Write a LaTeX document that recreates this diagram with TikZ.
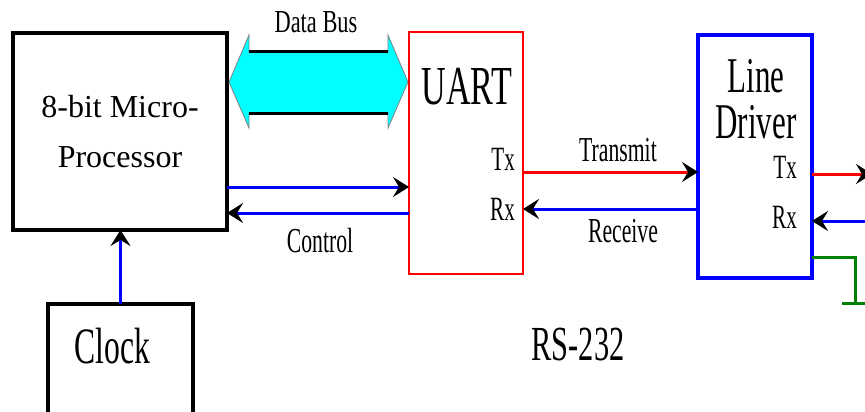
\documentclass[tikz,border=0pt]{standalone}
\usepackage{fontspec}
\setmainfont{Liberation Serif}
\newfontfamily\narrowserif{Liberation Serif}[FakeStretch=0.62]
\newfontfamily\busserif{Liberation Serif}[FakeStretch=0.7]
\usetikzlibrary{arrows.meta,calc}

\definecolor{busfill}{RGB}{0,255,255}
\definecolor{gndgreen}{RGB}{0,128,0}

\tikzset{
  blockbox/.style={draw,rectangle,outer sep=0pt,inner sep=0pt},
  sigarrow/.style={-{Stealth[length=16pt,width=20pt,inset=6pt,black]}},
  sigline/.style={line width=3pt},
  lbl/.style={anchor=base,inner sep=0pt,font=\narrowserif\fontsize{35}{35}\selectfont},
}

\begin{document}
\begin{tikzpicture}[x=1pt,y=-1pt]
  \useasboundingbox (0,0) rectangle (865,412);
  \clip (0,0) rectangle (865,412);

  % blocks
  \node[blockbox,line width=4pt,minimum width=214pt,minimum height=197pt] (micro) at (120,131.5) {};
  \node[blockbox,line width=4pt,minimum width=145pt,minimum height=116pt] (clock) at (120.5,362) {};
  \node[blockbox,draw=red,line width=2.5pt,minimum width=114pt,minimum height=242pt] (uart) at (466,153) {};
  \node[blockbox,draw=blue,line width=4pt,minimum width=114pt,minimum height=243pt] (driver) at (755,156.5) {};

  % block texts (base = last line)
  \node[anchor=base,align=center,inner sep=0pt,font=\fontsize{32}{50}\selectfont] (microtext) at (120,167) {8-bit Micro-\\Processor};
  \node[lbl,font=\narrowserif\fontsize{51}{51}\selectfont] (clocktext) at (112.5,363) {Clock};
  \node[lbl,font=\narrowserif\fontsize{55}{55}\selectfont] (uarttext) at (467,104) {UART};
  \node[lbl,align=center,font=\narrowserif\fontsize{50}{46}\selectfont] (drivertext) at (756,138) {Line\\Driver};
  \node[lbl,anchor=base east,font=\narrowserif\fontsize{34}{34}\selectfont] (uarttx) at (515,170) {Tx};
  \node[lbl,anchor=base east,font=\narrowserif\fontsize{34}{34}\selectfont] (uartrx) at (515,220) {Rx};
  \node[lbl,anchor=base east,font=\narrowserif\fontsize{34}{34}\selectfont] (drivertx) at (797,178) {Tx};
  \node[lbl,anchor=base east,font=\narrowserif\fontsize{34}{34}\selectfont] (driverrx) at (797,228) {Rx};

  % data bus
  \coordinate (busmid) at (0,82);
  \coordinate (busL) at (micro.east |- busmid);
  \coordinate (busR) at (uart.west |- busmid);
  \path[fill=busfill,draw=gray,line width=0.8pt]
    ($(busL)+(2,0)$) -- ($(busL)+(22,-47)$) -- ($(busL)+(22,-30)$)
    -- ($(busR)+(-21,-30)$) -- ($(busR)+(-21,-47)$) -- ($(busR)+(-1,0)$)
    -- ($(busR)+(-21,46)$) -- ($(busR)+(-21,31)$)
    -- ($(busL)+(22,31)$) -- ($(busL)+(22,46)$) -- cycle;
  \draw[line width=3pt] ($(busL)+(22,-30)$) -- ($(busR)+(-21,-30)$);
  \draw[line width=3pt] ($(busL)+(22,31)$) -- ($(busR)+(-21,31)$);
  \node[lbl,font=\busserif\fontsize{32}{32}\selectfont] (buslabel) at (316,33) {Data Bus};

  % control and serial lines
  \coordinate (ctlout) at (0,187);
  \coordinate (ctlin) at (0,213);
  \coordinate (txrow) at (0,172);
  \coordinate (rxrow) at (0,209);
  \draw[sigline,blue,sigarrow] (micro.east |- ctlout) -- (uart.west |- ctlout);
  \draw[sigline,blue,sigarrow] (uart.west |- ctlin) -- (micro.east |- ctlin);
  \draw[sigline,red,sigarrow] (uart.east |- txrow) -- (driver.west |- txrow);
  \draw[sigline,blue,sigarrow] (driver.west |- rxrow) -- (uart.east |- rxrow);
  \draw[sigline,blue,sigarrow] (clock.north) -- (clock.north |- micro.south);
  \node[lbl] (ctllabel) at (320,252) {Control};
  \node[lbl] (txlabel) at (618,161) {Transmit};
  \node[lbl] (rxlabel) at (623,242) {Receive};

  % line side
  \coordinate (linetx) at (872,174);
  \coordinate (linerx) at (872,221);
  \coordinate (gndtop) at (855,257);
  \coordinate (gnd) at (855,303);
  \draw[sigline,red,sigarrow] (driver.east |- linetx) -- (linetx);
  \draw[sigline,blue,sigarrow] (linerx) -- (driver.east |- linerx);
  \draw[sigline,gndgreen] (driver.east |- gndtop) -- (gndtop) -- (gnd);
  \draw[sigline,gndgreen] ([xshift=-13pt]gnd) -- ([xshift=15pt]gnd);

  \node[lbl,font=\narrowserif\fontsize{49}{49}\selectfont] (rslabel) at (578,360) {RS-232};
\end{tikzpicture}
\end{document}
